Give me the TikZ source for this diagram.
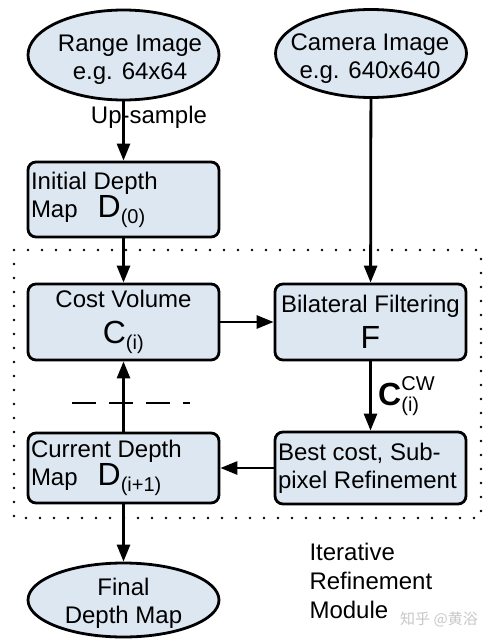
\documentclass[tikz,border=0pt]{standalone}
\usepackage{fontspec}
\usepackage{amsmath}
\setmainfont{Liberation Sans}
\newfontfamily\cjk{Noto Sans CJK SC}
\usetikzlibrary{shapes.geometric,arrows.meta}
\DeclareMathSizes{32}{32}{20}{16}
\definecolor{boxfill}{RGB}{221,231,242}
\newcommand{\bigsym}{\fontsize{32}{34}\selectfont}
\tikzset{
  stagebox/.style={draw, rounded corners=8pt, fill=boxfill, line width=2.8pt, minimum width=191pt, inner xsep=3pt, inner ysep=4pt, font=\fontsize{24}{28}\selectfont},
  ioblob/.style={ellipse, draw, fill=boxfill, line width=2.8pt, minimum width=191pt, inner sep=0pt},
  blobtext/.style={align=center, font=\fontsize{24}{28}\selectfont},
  flow/.style={-{Triangle[length=17pt,width=13pt]}, line width=2.8pt},
}
\begin{document}
\begin{tikzpicture}[x=1pt, y=-1pt]
    \useasboundingbox (0,0) rectangle (489,639);

    % inputs
    \node[ioblob, minimum height=90pt] (range) at (123.5,55) {};
    \node[blobtext] (rangeTxt) at (130,60) {Range Image\\e.g. 64x64};
    \node[ioblob, minimum height=88pt] (camera) at (371,53.5) {};
    \node[blobtext] (cameraTxt) at (370,59) {Camera Image\\e.g. 640x640};

    % iteration frame
    \draw[line width=2.8pt, line cap=round, dash pattern=on 0pt off 14pt] (14,250) rectangle (481,518);

    % stages
    \node[stagebox, minimum height=75pt, text width=185pt, align=flush left] (init) at (123.5,199.5)
        {Initial Depth\\Map\hspace{20pt}{\bigsym$\text{D}_{\text{(0)}}$}};
    \node[stagebox, minimum height=76pt, align=center] (cost) at (123.5,322)
        {Cost Volume\\[8pt]{\bigsym$\text{C}_{\text{(i)}}$}};
    \node[stagebox, minimum height=76pt, align=center] (bil) at (370.5,322)
        {Bilateral Filtering\\[8pt]{\bigsym F}};
    \node[stagebox, minimum height=72pt, text width=185pt, align=flush left] (best) at (370.5,468)
        {Best cost, Sub-\\pixel Refinement};
    \node[stagebox, minimum height=70pt, text width=185pt, align=flush left] (cur) at (123.5,468)
        {Current Depth\\Map\hspace{20pt}{\bigsym$\text{D}_{\text{(i+1)}}$}};

    % output
    \node[ioblob, minimum height=74pt] (final) at (123.5,600) {};
    \node[blobtext] (finalTxt) at (123.5,603) {Final\\Depth Map};

    \node[font=\fontsize{24}{29}\selectfont, align=flush left, anchor=north west] (iterLbl) at (306,540)
        {Iterative\\Refinement\\Module};

    % connectors
    \draw[flow] (range) -- (init);
    \node[font=\fontsize{24}{28}\selectfont] (upLbl) at (149,117) {Up-sample};
    \draw[flow] (init) -- (cost);
    \draw[flow] (camera) -- (bil);
    \draw[flow] (cost) -- (bil);
    \draw[flow] (bil) -- node[right=3pt] (cwLbl) {\bigsym$\textbf{C}^{\text{CW}}_{\text{(i)}}$} (best);
    \draw[flow] (best) -- (cur);
    \draw[flow] (cur) -- (cost);
    \draw[flow] (cur) -- (final);

    \coordinate (cutL) at (72,403);
    \coordinate (cutR) at (190,403);
    \draw[line width=2.8pt, dash pattern=on 24pt off 13pt] (cutL) -- (cutR);

    \node[font=\cjk\fontsize{15}{15}\selectfont, text=black!22] (zhihu) at (439,619) {知乎 @黄浴};
\end{tikzpicture}
\end{document}
